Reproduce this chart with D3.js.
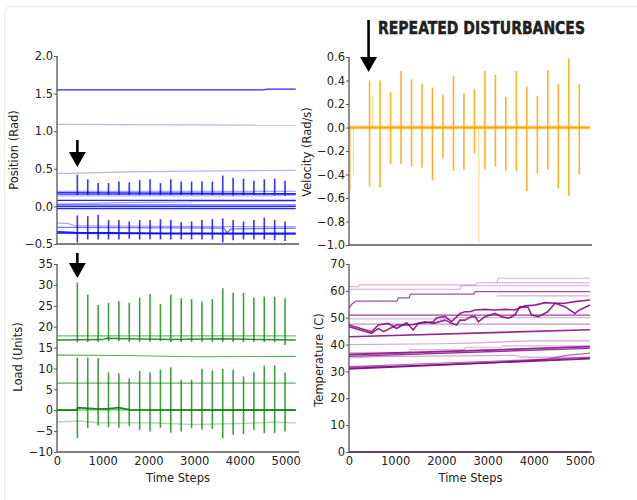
<!DOCTYPE html>
<html>
<head>
<meta charset="utf-8">
<script src="https://cdnjs.cloudflare.com/ajax/libs/d3/7.8.5/d3.min.js"></script>
<style>
  body { margin: 0; background: #fff; }
  text { font-family: "DejaVu Sans", sans-serif; fill: #222; }
</style>
</head>
<body>
<div id="chart"></div>
<script>
// disturbance instants (time steps), shared by every joint
const disturbances = [445, 672, 899, 1126, 1353, 1580, 1807, 2034, 2261, 2488, 2715,
                      2942, 3169, 3396, 3623, 3850, 4077, 4304, 4531, 4758, 4985];
const xTicks = [0, 1000, 2000, 3000, 4000, 5000];

// ---- position (rad)
const posSeries = [
    [[0, 1.55], [4500, 1.55], [4600, 1.56], [5220, 1.56]],
    [[0, 1.09], [5220, 1.08]],
    [[0, 0.44], [300, 0.44], [1500, 0.46], [3000, 0.47], [5220, 0.48]],
    [[0, 0.20], [5220, 0.20]],
    [[0, 0.18], [5220, 0.17]],
    [[0, 0.16], [5220, 0.16]],
    [[0, 0.14], [4500, 0.14], [5220, 0.15]],
    [[0, 0.08], [5220, 0.08]],
    [[0, 0.03], [1400, 0.05], [2900, 0.06], [3000, 0.07], [5220, 0.07]],
    [[0, 0.02], [5220, 0.02]],
    [[0, 0.0], [5220, 0.0]],
    [[0, -0.03], [5220, -0.03]],
    [[0, -0.22], [250, -0.23], [400, -0.26], [3700, -0.27], [5220, -0.27]],
    [[0, -0.28], [3650, -0.29], [3720, -0.35], [3800, -0.30], [5220, -0.29]],
    [[0, -0.34], [400, -0.35], [2500, -0.36], [5220, -0.36]],
    [[0, -0.36], [5220, -0.37]]
];
const posOpacity = [0.85, 0.3, 0.3, 0.35, 0.85, 0.6, 0.3, 0.85, 0.35, 0.6, 0.85, 0.85, 0.35, 0.55, 0.9, 0.7];
const posWidth   = [1.3, 1.2, 1.2, 1.2, 1.5, 1.2, 1.2, 1.3, 1.2, 1.2, 1.5, 1.3, 1.2, 1.2, 1.8, 1.2];
const posUpTops    = [0.42, 0.36, 0.31, 0.31, 0.33, 0.32, 0.35, 0.36, 0.31, 0.36, 0.33,
                      0.33, 0.33, 0.33, 0.41, 0.38, 0.37, 0.34, 0.36, 0.37, 0.34];
const posUpBottoms = [0.15, 0.15, 0.15, 0.15, 0.15, 0.15, 0.15, 0.15, 0.15, 0.15, 0.15,
                      0.15, 0.15, 0.15, 0.15, 0.14, 0.15, 0.15, 0.15, 0.15, 0.14];
const posLowTops    = [-0.12, -0.13, -0.11, -0.18, -0.18, -0.20, -0.18, -0.18, -0.17, -0.18, -0.21,
                       -0.20, -0.18, -0.17, -0.16, -0.18, -0.20, -0.18, -0.15, -0.18, -0.20];
const posLowBottoms = [-0.48, -0.44, -0.44, -0.44, -0.44, -0.43, -0.44, -0.44, -0.44, -0.44, -0.44,
                       -0.44, -0.44, -0.44, -0.48, -0.45, -0.44, -0.44, -0.44, -0.45, -0.46];
const posTicks = [-0.5, 0.0, 0.5, 1.0, 1.5, 2.0];

// ---- velocity (rad/s)
const velSeries = [
    [[0, 0.01], [5220, 0.01]],
    [[0, -0.01], [5220, -0.01]],
    [[0, 0.0], [5220, 0.0]]
];
const velOpacity = [0.45, 0.45, 0.95];
const velWidth   = [1.2, 1.2, 2];
const velTops    = [0.40, 0.40, 0.30, 0.48, 0.41, 0.37, 0.34, 0.28, 0.44, 0.29, 0.33,
                    0.48, 0.45, 0.26, 0.48, 0.35, 0.27, 0.49, 0.37, 0.59, 0.37];
const velBottoms = [-0.50, -0.51, -0.31, -0.31, -0.33, -0.34, -0.45, -0.26, -0.37, -0.36, -0.22,
                    -0.36, -0.33, -0.37, -0.37, -0.54, -0.39, -0.36, -0.52, -0.58, -0.40];
// odd single spikes, faint
const velExtraTimes   = [35, 94, 510, 2810];
const velExtraTops    = [0, 0, 0.27, 0];
const velExtraBottoms = [-0.53, -0.40, 0, -0.98];
const velTicks = [-1.0, -0.8, -0.6, -0.4, -0.2, 0.0, 0.2, 0.4, 0.6];

// ---- load (units)
const loadSeries = [
    [[0, 17.8], [5220, 17.8]],
    [[0, 16.8], [1000, 16.9], [1100, 17.2], [1500, 17.1], [2500, 16.9], [3600, 17.1], [4400, 16.9], [5220, 16.8]],
    [[0, 13.2], [1500, 13.1], [3000, 12.8], [5220, 12.9]],
    [[0, 6.5], [5220, 6.5]],
    [[0, 0.1], [5220, 0.1]],
    [[0, 0], [420, 0], [460, 0.6], [800, 0.4], [1100, 0.3], [1350, 0.6], [1600, 0.1], [5220, 0]],
    [[0, -2.8], [500, -2.6], [900, -3.0], [2000, -3.0], [3000, -3.4], [4000, -3.2], [4700, -2.9], [5220, -3.0]]
];
const loadOpacity = [0.55, 0.85, 0.65, 0.6, 0.6, 0.9, 0.3];
const loadWidth   = [1.2, 1.5, 1.2, 1.2, 1.2, 1.8, 1.5];
const loadUpTops    = [30.6, 27.7, 25.2, 25.7, 26.1, 25.7, 27.0, 27.8, 25.4, 27.7, 26.8,
                       26.6, 26.0, 26.6, 29.2, 28.1, 28.1, 27.0, 27.2, 27.2, 26.8];
const loadUpBottoms = [16.3, 16.3, 16.3, 16.5, 16.5, 16.3, 16.3, 16.3, 16.5, 16.3, 16.3,
                       16.3, 16.3, 16.3, 16.3, 16.3, 16.3, 16.3, 16.3, 16.3, 15.6];
const loadLowTops    = [12.6, 12.6, 12.5, 9.1, 8.8, 7.6, 9.4, 9.1, 9.7, 10.3, 7.3,
                        7.3, 9.9, 9.5, 9.9, 9.7, 8.1, 9.1, 10.7, 10.7, 9.0];
const loadLowBottoms = [-6.7, -4.3, -3.7, -4.1, -4.2, -3.8, -4.7, -5.1, -4.2, -5.4, -5.1,
                        -4.3, -4.6, -4.5, -6.7, -5.9, -5.7, -4.7, -5.5, -5.5, -5.1];
const loadTicks = [-10, -5, 0, 5, 10, 15, 20, 25, 30, 35];

// ---- temperature (C)
const tempSeries = [
    [[0, 61.6], [200, 61.6], [230, 62.2], [2730, 62.2], [2760, 63.0], [5216, 63.0]],
    [[3200, 63.0], [3230, 64.7], [5216, 64.7]],
    [[0, 60.6], [2400, 60.6], [2430, 61.9], [5216, 61.9]],
    [[0, 53.5], [60, 55.0], [150, 56.2], [1040, 56.2], [1070, 57.4], [1300, 57.4], [1330, 58.8],
     [2700, 58.8], [2730, 59.7], [5216, 59.7]],
    [[3200, 58.1], [5216, 58.1]],
    [[0, 51.0], [5216, 51.0]],
    [[0, 49.6], [2300, 49.6], [2330, 50.0], [5216, 50.0]],
    [[0, 47.6], [5216, 47.6]],
    [[0, 47.3], [490, 44.8], [635, 47.3], [850, 47.9], [1030, 46.0], [1250, 48.1], [1390, 45.4],
     [1500, 47.9], [1645, 48.1], [1825, 48.5], [1900, 50.0], [2080, 50.4], [2220, 48.5], [2400, 51.6],
     [2510, 52.2], [2620, 52.2], [2730, 52.9], [2944, 53.1], [3160, 52.9], [3377, 53.1], [3590, 52.9],
     [3810, 54.4], [4026, 54.7], [4243, 55.6], [4460, 55.4], [4675, 55.4], [4890, 56.0], [5216, 56.6]],
    [[0, 46.6], [490, 44.2], [635, 46.0], [750, 44.8], [1030, 47.3], [1250, 47.3], [1390, 47.5],
     [1645, 48.5], [1825, 47.9], [2080, 49.1], [2220, 47.9], [2330, 47.3], [2400, 49.1], [2510, 49.1],
     [2650, 50.4], [2730, 50.4], [2800, 48.5], [2944, 50.4], [3160, 51.6], [3300, 50.4], [3450, 49.8],
     [3590, 51.0], [3700, 54.1], [3880, 53.8], [3950, 51.0], [4100, 50.4], [4300, 52.2], [4460, 55.4],
     [4675, 54.1], [4890, 51.6], [5000, 53.0], [5216, 54.7]],
    [[0, 42.9], [5216, 45.5]],
    [[0, 40.0], [2000, 40.3], [2800, 40.6], [3900, 41.4], [5216, 41.4]],
    [[0, 37.0], [1300, 37.2], [1330, 38.0], [2500, 38.2], [2530, 39.0], [3300, 39.0], [3330, 39.5], [5216, 39.5]],
    [[0, 36.3], [5216, 39.2]],
    [[0, 35.6], [5216, 38.6]],
    [[0, 35.0], [600, 35.5], [3600, 36.0], [3700, 35.3], [5216, 35.2]],
    [[0, 31.5], [2000, 32.4], [3500, 33.6], [4300, 34.6], [4700, 36.0], [5216, 36.8]],
    [[0, 31.8], [5216, 35.2]],
    [[0, 31.0], [5216, 34.8]],
    [[0, 0], [5216, 0]]
];
const tempOpacity = [0.3, 0.3, 0.35, 0.7, 0.3, 0.75, 0.3, 0.45, 0.85, 0.85, 0.85, 0.35,
                     0.3, 0.85, 0.8, 0.35, 0.6, 0.6, 0.9, 0.9];
const tempWidth   = [1.2, 1.2, 1.2, 1.3, 1.2, 1.3, 1.2, 1.2, 1.6, 1.6, 1.6, 1.2,
                     1.2, 1.8, 1.4, 1.2, 1.2, 1.2, 1.8, 2];
const tempTicks = [0, 10, 20, 30, 40, 50, 60, 70];

let WIDTH = 637,
    HEIGHT = 500;

let svg = d3.select("#chart")
    .append("svg")
    .attr("width", WIDTH)
    .attr("height", HEIGHT)
    .style("display", "block");

// faint frame around the figure
svg.append("rect")
    .attr("x", 4.5).attr("y", 6.5)
    .attr("width", 660).attr("height", 520)
    .attr("rx", 5)
    .attr("fill", "none")
    .attr("stroke", "#ececec");

function spikes(times, tops, bottoms) {
    return times.map((t, i) => ({ t: t, top: tops[i], bottom: bottoms[i] }));
}

function drawPanel(p) {
    let x = d3.scaleLinear().domain(p.xDomain).range(p.xRange);
    let y = d3.scaleLinear().domain(p.yDomain).range(p.yRange);
    let g = svg.append("g");
    let line = d3.line().x(d => x(d[0])).y(d => y(d[1]));

    g.selectAll("path.series")
        .data(p.series)
        .enter()
        .append("path")
        .attr("class", "series")
        .attr("d", line)
        .attr("fill", "none")
        .attr("stroke", p.color)
        .attr("stroke-opacity", (d, i) => p.opacity[i])
        .attr("stroke-width", (d, i) => p.width[i]);

    p.spikes.forEach(sp => {
        g.selectAll(null)
            .data(sp.data)
            .enter()
            .append("line")
            .attr("x1", d => x(d.t)).attr("x2", d => x(d.t))
            .attr("y1", d => y(d.top)).attr("y2", d => y(d.bottom))
            .attr("stroke", p.color)
            .attr("stroke-opacity", sp.opacity)
            .attr("stroke-width", sp.width);
    });

    // y axis
    let ya = g.append("g")
        .attr("transform", `translate(${p.xRange[0]},0)`)
        .call(d3.axisLeft(y).tickValues(p.yTicks).tickFormat(d3.format(p.yFmt)).tickSize(3).tickPadding(1));
    ya.select(".domain").remove();
    ya.selectAll("line").attr("stroke", "#555");
    ya.selectAll("text").style("font-size", "11.5px").style("font-family", "DejaVu Sans").attr("fill", "#222");

    if (p.showX) {
        let xa = g.append("g")
            .attr("transform", `translate(0,${p.yRange[0]})`)
            .call(d3.axisBottom(x).tickValues(xTicks).tickFormat(d3.format("d")).tickSize(0).tickPadding(5));
        xa.select(".domain").remove();
        xa.selectAll("text").style("font-size", "11.5px").style("font-family", "DejaVu Sans").attr("fill", "#222");
        g.append("text")
            .attr("x", (p.xRange[0] + p.xRange[1]) / 2)
            .attr("y", p.yRange[0] + 30)
            .attr("text-anchor", "middle")
            .style("font-size", "11.5px")
            .text("Time Steps");
    }

    // spines
    g.append("line")
        .attr("x1", p.xRange[0]).attr("x2", p.xRange[0])
        .attr("y1", p.yRange[1]).attr("y2", p.yRange[0])
        .attr("stroke", "#555").attr("stroke-width", 1.3);
    g.append("line")
        .attr("x1", p.xRange[0]).attr("x2", p.xRange[1])
        .attr("y1", p.yRange[0]).attr("y2", p.yRange[0])
        .attr("stroke", "#555").attr("stroke-width", 1.3);

    g.append("text")
        .attr("transform", `translate(${p.labelX},${p.labelY}) rotate(-90)`)
        .attr("text-anchor", "middle")
        .attr("dy", "0.35em")
        .style("font-size", "11.5px")
        .text(p.label);

    return { x: x, y: y };
}

function arrow(cx, yTop, yBottom) {
    let headH = 15, headW = 8.5;
    svg.append("line")
        .attr("x1", cx).attr("x2", cx)
        .attr("y1", yTop).attr("y2", yBottom - headH + 1)
        .attr("stroke", "#000").attr("stroke-width", 2.6);
    svg.append("path")
        .attr("d", `M${cx - headW},${yBottom - headH} L${cx + headW},${yBottom - headH} L${cx},${yBottom} Z`)
        .attr("fill", "#000");
}

let pos = drawPanel({
    xDomain: [0, 5290], xRange: [57, 299],
    yDomain: [-0.5, 2.0], yRange: [244, 56],
    yTicks: posTicks, yFmt: ".1f",
    color: "#0000ff", series: posSeries, opacity: posOpacity, width: posWidth,
    spikes: [
        { data: spikes(disturbances, posUpTops, posUpBottoms), opacity: 0.8, width: 1.6 },
        { data: spikes(disturbances, posLowTops, posLowBottoms), opacity: 0.8, width: 1.6 }
    ],
    label: "Position (Rad)", labelX: 14, labelY: 150, showX: false
});

let vel = drawPanel({
    xDomain: [0, 5260], xRange: [349, 592],
    yDomain: [-1.0, 0.6], yRange: [245, 57],
    yTicks: velTicks, yFmt: ".1f",
    color: "#ffa500", series: velSeries, opacity: velOpacity, width: velWidth,
    spikes: [
        { data: spikes(disturbances, velTops, velBottoms), opacity: 0.85, width: 1.6 },
        { data: spikes(velExtraTimes, velExtraTops, velExtraBottoms), opacity: 0.4, width: 1.2 }
    ],
    label: "Velocity (Rad/s)", labelX: 307, labelY: 152, showX: false
});

let load = drawPanel({
    xDomain: [0, 5290], xRange: [57, 299],
    yDomain: [-10, 35], yRange: [452, 264],
    yTicks: loadTicks, yFmt: "d",
    color: "#008000", series: loadSeries, opacity: loadOpacity, width: loadWidth,
    spikes: [
        { data: spikes(disturbances, loadUpTops, loadUpBottoms), opacity: 0.75, width: 1.6 },
        { data: spikes(disturbances, loadLowTops, loadLowBottoms), opacity: 0.75, width: 1.6 }
    ],
    label: "Load (Units)", labelX: 18, labelY: 357, showX: true
});

let temp = drawPanel({
    xDomain: [0, 5260], xRange: [349, 592],
    yDomain: [0, 70], yRange: [452, 264],
    yTicks: tempTicks, yFmt: "d",
    color: "#800080", series: tempSeries, opacity: tempOpacity, width: tempWidth,
    spikes: [],
    label: "Temperature (C)", labelX: 319, labelY: 360, showX: true
});

// annotations
arrow(pos.x(disturbances[0]), 140, 167);
arrow(load.x(disturbances[0]), 253, 278);
arrow(vel.x(disturbances[0]) - 1, 20, 72);

svg.append("text")
    .attr("x", 378).attr("y", 34)
    .attr("textLength", 207)
    .attr("lengthAdjust", "spacingAndGlyphs")
    .style("font-family", "'Liberation Sans Narrow', 'DejaVu Sans Condensed', sans-serif")
    .style("font-weight", "bold")
    .style("font-size", "17px")
    .style("stroke", "#111").style("stroke-width", 0.4)
    .attr("fill", "#111")
    .text("REPEATED DISTURBANCES");
</script>
</body>
</html>
